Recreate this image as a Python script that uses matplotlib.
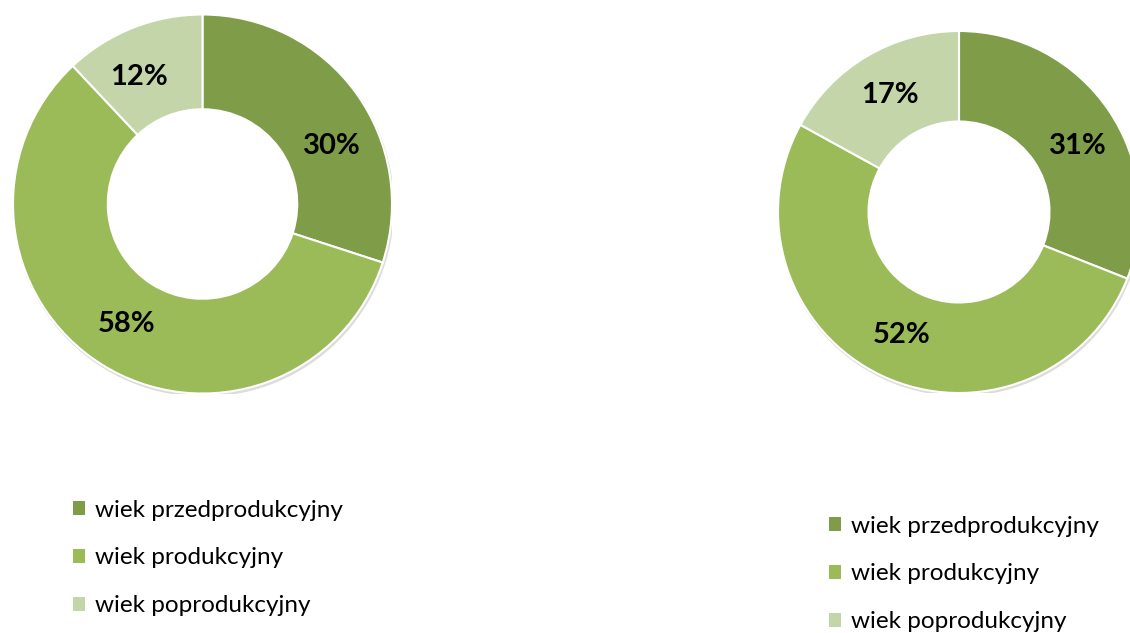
import matplotlib
matplotlib.use("Agg")
import numpy as np
import matplotlib.pyplot as plt
from matplotlib.patches import Patch, Wedge

plt.rcParams['font.family'] = ['Lato', 'DejaVu Sans']

# data
categories = ['wiek przedprodukcyjny', 'wiek produkcyjny', 'wiek poprodukcyjny']
left_values = [30, 58, 12]
right_values = [31, 52, 17]
colors = ['#7F9C48', '#9BBB59', '#C4D6A9']

W, H = 1130, 633
fig = plt.figure(figsize=(W / 100, H / 100), dpi=100)


def donut(cx, cy, r, values, label_shift):
    # axes placed by pixel centre / radius
    ax = fig.add_axes([(cx - r) / W, (H - cy - r) / H, 2 * r / W, 2 * r / H])
    # soft shadow just outside the ring
    ax.add_patch(Wedge((0.006, -0.012), 1.005, 0, 360, width=0.1,
                       facecolor='#dcdcdc', edgecolor='none', zorder=0))
    wedges, texts, autotexts = ax.pie(
        values, colors=colors, startangle=90, counterclock=False, radius=1,
        autopct='%1.0f%%', pctdistance=0.75,
        wedgeprops=dict(width=0.5, edgecolor='white', linewidth=1.5),
        textprops=dict(fontsize=21, fontweight='bold', color='black'))
    # label placement tweaks (degrees along the ring)
    for w, t, d in zip(wedges, autotexts, label_shift):
        a = np.deg2rad((w.theta1 + w.theta2) / 2 + d)
        t.set_position((0.75 * np.cos(a), 0.75 * np.sin(a)))
    ax.set_xlim(-1, 1)
    ax.set_ylim(-1, 1)
    ax.set_aspect('equal')
    ax.axis('off')
    return ax


donut(202.5, 204, 189.5, left_values, [-12, 0, 5])
donut(959, 212, 181, right_values, [-5, 0, 0])

handles = [Patch(facecolor=c, edgecolor='none') for c in colors]


def legend(x, y):
    fig.legend(handles, categories, loc='center left',
               bbox_to_anchor=(x / W, (H - y) / H),
               frameon=False, fontsize=17.5, borderpad=0, borderaxespad=0,
               handlelength=0.5, handleheight=0.5, handletextpad=0.4,
               labelspacing=1.1)


legend(73, 558)
legend(829, 574)

fig.savefig('out.png', dpi=100)
